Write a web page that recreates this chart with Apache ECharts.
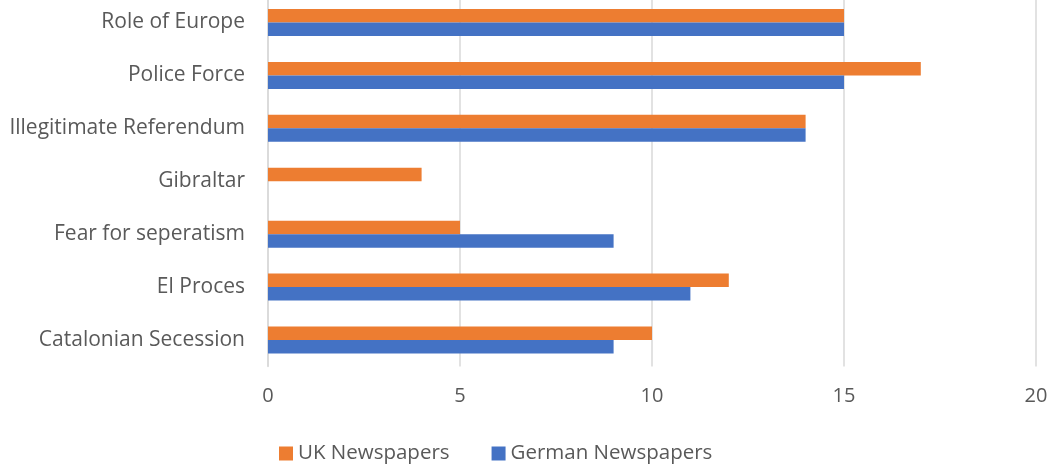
<!DOCTYPE html>
<html><head><meta charset="utf-8">
<script src="https://cdn.jsdelivr.net/npm/echarts@6/dist/echarts.min.js"></script>
<style>html,body{margin:0;padding:0;background:#fff}#c{width:1054px;height:466px}</style>
</head><body><div id="c"></div>
<script>
const categories = ['Catalonian Secession','El Proces','Fear for seperatism','Gibraltar','Illegitimate Referendum','Police Force','Role of Europe'];
const ukValues = [10,12,5,4,14,17,15];
const germanValues = [9,11,9,0,14,15,15];
const seriesNames = ['UK Newspapers','German Newspapers'];
const FONT = '"Open Sans", sans-serif';
const chart = echarts.init(document.getElementById('c'));
chart.setOption({
  animation:false,
  textStyle:{fontFamily:FONT},
  grid:{left:268,right:18,top:-4,height:370.5,containLabel:false,outerBoundsMode:'none'},
  legend:{data:seriesNames,bottom:-3,left:274,itemWidth:14,itemHeight:14,itemGap:42,icon:'rect',
    textStyle:{fontSize:20.5,color:'#595959',fontFamily:FONT}},
  xAxis:{type:'value',min:0,max:20,interval:5,
    axisLine:{show:false},axisTick:{show:false},
    axisLabel:{fontSize:20,color:'#595959',margin:20,fontFamily:FONT},
    splitLine:{lineStyle:{color:'#d9d9d9',width:1.5}}},
  yAxis:{type:'category',data:categories,
    axisLine:{show:true,lineStyle:{color:'#d9d9d9',width:1.5}},axisTick:{show:false},
    axisLabel:{fontSize:21,color:'#595959',margin:23,fontFamily:FONT,padding:[3,0,0,0]}},
  series:[
    {name:'UK Newspapers',type:'bar',data:ukValues,barWidth:13.5,barGap:'0%',itemStyle:{color:'#ED7D31'}},
    {name:'German Newspapers',type:'bar',data:germanValues,barWidth:13.5,barGap:'0%',itemStyle:{color:'#4472C4'}}
  ]
});
</script></body></html>
